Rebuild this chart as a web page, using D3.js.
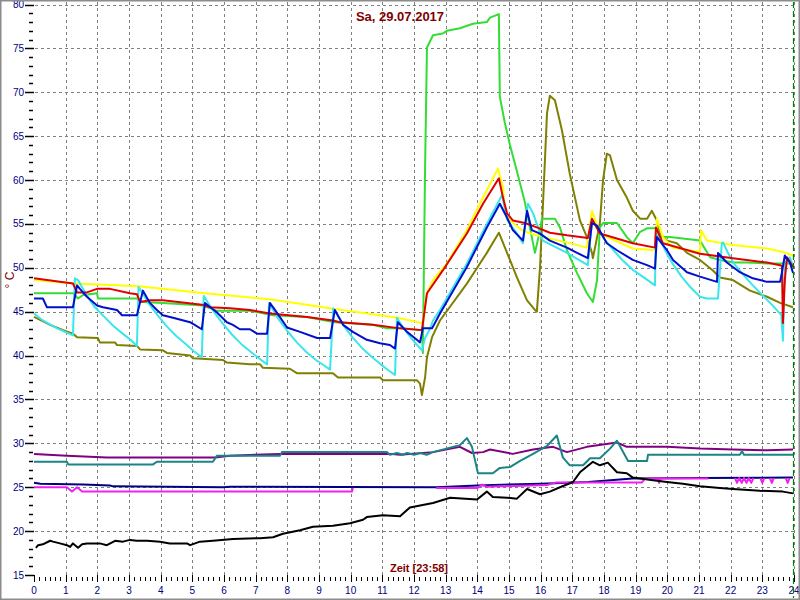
<!DOCTYPE html>
<html><head><meta charset="utf-8">
<script src="https://cdn.jsdelivr.net/npm/d3@7"></script>
<style>
html,body{margin:0;padding:0;background:#fff;}
svg{display:block;}
text{font-family:"Liberation Sans",Arial,sans-serif;}
</style></head>
<body>
<svg id="chart" width="800" height="600"></svg>
<script>
// ---- Data (hour of day, °C) ----
const title = "Sa, 29.07.2017";
const xTitle = "Zeit [23:58]";
const yTitle = "° C";
const xTicks = d3.range(0, 25);
const yTicks = d3.range(15, 81, 5);
const nowHour = 23.967;

const yellow = [[0,48.6],[1.3,48.2],[3.3,47.9],[5.4,47.1],[7.5,46.4],[9.5,45.3],[11.5,44.3],[12.25,43.7],[12.28,43.9],[12.41,47.1],[12.6,48.6],[13.04,50.5],[13.67,54.3],[14.08,57.3],[14.65,61.3],[14.81,59.2],[14.87,56.2],[15.03,55.4],[15.4,54.3],[15.7,53.9],[16.3,53.3],[16.83,52.9],[17.46,52.3],[17.62,56.5],[17.87,53.9],[18.91,52.2],[19.61,52.0],[19.67,55.6],[19.86,53.5],[20.18,52.3],[21.03,51.8],[21.06,54.3],[21.25,53.1],[22.07,52.6],[23.15,52.2],[23.65,51.8],[23.97,51.4]];

const red = [[0,48.8],[1.23,48.2],[1.36,47.2],[1.67,47.2],[1.99,47.6],[2.4,47.6],[3.03,47.1],[3.25,47.0],[3.35,46.1],[3.66,46.3],[4.07,46.3],[4.83,46.0],[5.3,45.8],[5.56,45.5],[6.19,45.4],[6.82,45.2],[7.45,44.8],[8.62,44.4],[9.44,44.0],[9.66,43.8],[10.7,43.5],[11.56,43.1],[12.25,42.9],[12.41,47.1],[12.91,49.7],[13.67,53.9],[14.18,57.3],[14.68,60.2],[14.81,58.0],[14.94,56.2],[15.12,55.4],[15.5,55.1],[15.88,54.6],[16.29,54.0],[16.83,53.7],[17.49,53.4],[17.62,55.6],[17.87,53.9],[18.91,52.8],[19.61,52.3],[19.64,54.6],[19.86,52.8],[21.03,51.6],[22.07,51.1],[23.15,50.6],[23.56,50.3],[23.62,50.2],[23.65,43.7],[23.71,48.6],[23.78,51.2],[23.97,50.1]];

const green = [[0,47.1],[1.23,47.1],[1.39,46.5],[1.55,46.9],[1.99,47.1],[2.02,46.5],[3.25,46.5],[3.44,46.1],[4.07,46.0],[5.34,45.7],[5.78,45.1],[6.82,45.1],[7.55,44.6],[8.62,44.4],[9.5,43.8],[10.7,43.5],[11.15,43.1],[11.56,43.1],[12.25,42.9],[12.28,40.3],[12.35,61.4],[12.41,75.1],[12.6,76.5],[12.91,76.7],[13.04,77.0],[13.45,77.3],[13.86,77.8],[14.3,78.0],[14.4,78.5],[14.68,78.9],[14.71,69.5],[14.87,66.5],[15.03,64.0],[15.25,61.0],[15.5,57.5],[15.72,53.5],[15.82,51.7],[15.98,54.3],[16.04,55.6],[16.45,55.6],[16.61,54.6],[16.83,52.0],[17.15,49.4],[17.46,47.1],[17.65,46.1],[17.78,48.6],[17.87,54.6],[17.97,55.1],[18.41,55.1],[18.72,53.5],[18.91,52.8],[19.14,54.1],[19.36,54.5],[19.67,54.5],[19.77,53.5],[20.08,53.5],[21.03,53.1],[21.35,51.2],[21.66,50.9],[22.07,50.6],[22.51,50.6],[23.15,50.5],[23.97,50.5]];

const cyan = [[0,44.8],[0.28,44.0],[0.73,43.1],[1.23,42.3],[1.29,48.8],[1.39,48.6],[1.5,47.9],[1.7,46.7],[1.9,45.6],[2.2,44.5],[2.5,43.4],[2.8,42.5],[3.05,41.8],[3.25,41.1],
  [3.3,47.8],[3.45,47.0],[3.65,45.8],[3.9,44.6],[4.2,43.3],[4.5,42.2],[4.8,41.3],[5.05,40.5],[5.3,39.8],
  [5.36,46.8],[5.5,46.0],[5.7,44.9],[5.95,43.7],[6.25,42.4],[6.55,41.3],[6.85,40.4],[7.1,39.7],[7.36,39.0],
  [7.42,46.0],[7.55,45.2],[7.75,44.0],[8.0,42.8],[8.3,41.5],[8.6,40.4],[8.9,39.5],[9.15,38.9],[9.35,38.4],
  [9.45,45.4],[9.6,44.5],[9.8,43.3],[10.05,42.1],[10.35,40.9],[10.65,39.9],[10.95,39.0],[11.2,38.3],[11.4,37.8],
  [11.46,44.3],[11.6,43.5],[11.8,42.5],[12.0,41.6],[12.25,40.6],
  [12.35,42.0],[12.5,43.0],[12.6,44.0],[12.82,45.2],[13.67,50.5],[14.3,55.0],[14.78,58.3],[14.94,55.5],[15.25,53.9],[15.44,52.8],[15.6,57.3],[15.76,56.2],[16.07,53.1],[16.83,51.7],[17.49,50.3],
  [17.62,55.4],[17.8,54.5],[18.0,53.3],[18.3,52.0],[18.6,50.8],[18.9,49.8],[19.3,48.8],[19.61,48.0],
  [19.64,53.9],[19.8,53.0],[20.0,51.5],[20.2,50.3],[20.45,49.0],[20.7,47.9],[21.03,46.7],[21.25,46.5],[21.6,46.5],
  [21.72,52.8],[21.76,52.9],[21.9,51.8],[22.1,50.5],[22.4,49.2],[22.7,48.0],[23.0,46.9],[23.3,45.8],[23.6,44.6],
  [23.65,41.7],[23.71,50.5],[23.87,51.2],[23.97,50.1]];

const blue = [[0,46.5],[0.28,46.5],[0.41,45.5],[1.23,45.5],[1.36,48.0],[1.45,47.6],[1.67,46.7],[1.99,45.7],[2.18,45.5],[2.62,45.2],[2.78,44.6],[3.25,44.6],[3.44,47.4],[3.66,46.0],[3.88,45.2],[4.07,44.6],[4.39,44.3],[4.93,43.8],[5.3,43.0],[5.4,46.0],[5.78,44.9],[6.09,43.8],[6.28,43.5],[6.5,43.0],[6.82,43.0],[7.04,42.5],[7.36,42.5],[7.45,46.0],[7.67,44.9],[7.99,43.2],[8.4,42.7],[8.94,42.0],[9.35,42.0],[9.5,45.2],[9.76,43.5],[10.07,42.7],[10.51,41.8],[10.93,41.4],[11.24,41.2],[11.4,40.8],[11.49,43.8],[11.78,42.7],[12.09,41.8],[12.19,41.5],[12.28,43.1],[12.57,43.1],[12.82,44.8],[13.67,50.1],[14.3,54.6],[14.71,57.3],[14.94,55.7],[15.12,54.3],[15.44,53.1],[15.57,56.5],[15.72,54.3],[15.98,53.9],[16.29,53.1],[16.83,52.3],[17.15,51.7],[17.49,51.1],[17.62,55.1],[17.78,54.8],[18.09,52.8],[18.41,52.0],[18.91,50.9],[19.36,50.3],[19.61,49.9],[19.67,53.5],[19.99,52.0],[20.18,50.9],[20.62,49.5],[21.03,49.0],[21.57,48.4],[21.6,51.7],[21.88,50.6],[22.29,49.5],[22.7,48.8],[23.15,48.4],[23.56,48.4],[23.62,49.5],[23.71,51.4],[23.87,50.6],[23.97,49.4]];

const olive = [[0,44.4],[0.51,43.5],[0.92,42.9],[1.23,42.5],[1.36,42.1],[2.02,42.0],[2.08,41.5],[2.56,41.5],[2.62,41.2],[3.25,41.1],[3.35,40.7],[4.07,40.6],[4.2,40.3],[4.93,40.0],[5.02,39.7],[5.97,39.5],[6.09,39.2],[6.82,39.0],[7.14,39.0],[7.23,38.6],[8.08,38.5],[8.3,38.0],[9.44,38.0],[9.6,37.5],[10.93,37.5],[11.02,37.2],[12.09,37.2],[12.19,36.8],[12.25,35.5],[12.35,37.5],[12.41,39.8],[12.57,42.1],[12.82,44.0],[13.67,48.2],[14.3,51.7],[14.68,54.0],[15.03,50.9],[15.25,48.9],[15.57,46.3],[15.82,45.2],[15.88,45.0],[15.98,50.1],[16.07,57.0],[16.2,67.6],[16.29,69.6],[16.45,69.1],[16.67,65.7],[16.92,60.7],[17.24,55.4],[17.46,53.5],[17.62,51.7],[17.65,51.1],[17.87,55.1],[17.97,60.0],[18.09,63.0],[18.19,62.8],[18.41,60.0],[18.72,58.0],[18.91,56.5],[19.14,55.6],[19.36,55.6],[19.51,56.5],[19.67,55.4],[19.77,53.9],[19.99,53.1],[20.3,52.8],[20.62,51.7],[21.03,50.9],[21.44,49.7],[21.66,48.9],[22.07,48.6],[22.61,47.4],[23.15,46.7],[23.56,46.0],[23.97,45.5]];

const purple = [[0,28.8],[1.04,28.6],[2.3,28.4],[4.07,28.4],[5.72,28.4],[6.19,28.6],[7.77,28.8],[9.98,28.8],[11.24,28.8],[11.56,28.7],[12.6,29.0],[13.45,29.6],[13.83,28.9],[14.18,29.0],[14.4,29.3],[15.12,28.8],[15.76,29.3],[16.39,29.6],[16.83,29.0],[17.46,29.6],[18.41,30.1],[18.72,29.6],[19.99,29.6],[21.03,29.4],[22.07,29.3],[23.15,29.2],[23.97,29.3]];

const teal = [[0,27.9],[1.04,27.9],[1.08,27.6],[3.76,27.6],[3.88,27.9],[5.65,27.9],[5.78,28.6],[7.77,28.6],[7.83,29.0],[11.15,29.0],[11.24,28.7],[11.46,28.9],[11.65,28.7],[11.78,28.9],[12.0,28.7],[12.2,28.9],[12.4,28.7],[12.6,29.0],[13.23,29.6],[13.45,29.8],[13.67,30.6],[13.83,29.6],[14.02,26.6],[14.49,26.6],[14.71,27.2],[15.03,27.3],[15.35,28.0],[15.76,28.8],[16.2,29.7],[16.51,30.9],[16.7,28.4],[16.92,27.5],[17.34,27.5],[17.56,28.3],[17.87,28.3],[18.19,29.4],[18.41,30.3],[18.76,28.0],[19.36,28.0],[19.39,28.7],[22.29,28.7],[22.36,29.1],[22.42,28.7],[23.97,28.7]];

const navy = [[0,25.5],[0.2,25.4],[1.55,25.3],[2.4,25.2],[2.5,25.1],[5.97,25.0],[6.2,25.05],[12.7,25.0],[14.0,25.2],[16.0,25.4],[17.5,25.6],[18.9,26.0],[21.0,26.05],[23.97,26.1]];

const magenta = [[0,25.0],[1.04,25.0],[1.2,24.5],[1.36,25.0],[1.52,24.5],[10.04,24.5],[10.07,24.9],null,
  [12.7,24.9],[14.0,24.9],[14.15,25.3],[14.3,25.05],[16.2,25.25],[16.5,25.55],[19.2,25.55],[19.3,26.0],[21.3,26.0],null,
  [19.68,26.05],[19.74,25.5],[19.8,26.05],null,
  [22.14,26.05],[22.2,25.5],[22.27,26.05],[22.35,25.5],[22.42,26.05],[22.5,25.5],[22.57,26.05],[22.65,25.5],[22.72,26.05],null,
  [22.94,26.05],[23.0,25.5],[23.06,26.05],null,
  [23.24,26.05],[23.3,25.5],[23.36,26.05],null,
  [23.74,26.05],[23.8,25.5],[23.86,26.05]];

const black = [[0.06,18.1],[0.13,18.4],[0.28,18.5],[0.51,18.9],[0.6,18.8],[0.82,18.6],[1.04,18.4],[1.14,18.2],[1.23,18.6],[1.39,18.1],[1.52,18.5],[1.67,18.6],[2.08,18.6],[2.3,18.4],[2.56,18.9],[2.81,18.8],[3.03,19.0],[3.25,18.9],[3.57,18.9],[3.98,18.8],[4.29,18.6],[4.83,18.6],[4.93,18.4],[5.24,18.8],[5.65,18.9],[6.28,19.1],[7.14,19.2],[7.55,19.3],[7.86,19.7],[8.4,20.1],[8.81,20.5],[9.44,20.6],[9.98,20.9],[10.39,21.3],[10.51,21.6],[11.02,21.8],[11.56,21.7],[11.87,22.7],[12.6,23.2],[13.14,23.8],[13.99,23.6],[14.3,24.5],[14.49,23.9],[14.94,23.8],[15.25,23.7],[15.57,24.8],[15.98,24.2],[16.29,24.5],[16.61,25.0],[17.02,25.6],[17.24,26.7],[17.65,27.9],[17.87,27.5],[18.12,27.8],[18.41,26.7],[18.72,26.6],[18.91,26.1],[19.55,25.8],[19.99,25.6],[20.49,25.4],[21.03,25.1],[21.66,24.9],[22.07,24.8],[22.92,24.6],[23.65,24.5],[23.97,24.3]];

const seriesList = [
  {data: purple,  color: "#800080"},
  {data: teal,    color: "#1a8585"},
  {data: navy,    color: "#000080"},
  {data: magenta, color: "#ee22ee"},
  {data: black,   color: "#000000"},
  {data: olive,   color: "#808000"},
  {data: green,   color: "#33dd33"},
  {data: yellow,  color: "#ffff00"},
  {data: cyan,    color: "#3ae6ec"},
  {data: red,     color: "#e00000"},
  {data: blue,    color: "#0010cc"}
];

// ---- Drawing ----
const svg = d3.select("#chart");
const x = d3.scaleLinear().domain([0, 24]).range([34, 794]);
const y = d3.scaleLinear().domain([15, 80]).range([575, 4.5]);

// grid
const grid = svg.append("g").attr("stroke", "#808080").attr("stroke-width", 1).attr("stroke-dasharray", "3,3");
grid.selectAll("line.h").data(yTicks.filter(v => v > 15)).join("line")
  .attr("x1", 35).attr("x2", 797)
  .attr("y1", d => Math.round(y(d)) + 0.5).attr("y2", d => Math.round(y(d)) + 0.5);
grid.selectAll("line.v").data(xTicks.filter(v => v > 0)).join("line")
  .attr("y1", 2).attr("y2", 575)
  .attr("x1", d => Math.round(x(d)) + 0.5).attr("x2", d => Math.round(x(d)) + 0.5);

// y axis ticks
const yAx = svg.append("g");
yAx.selectAll("line.minor").data(d3.range(15, 81, 1).filter(v => v % 5 !== 0)).join("line")
  .attr("x1", 29).attr("x2", 33).attr("y1", d => Math.round(y(d)) + 0.5).attr("y2", d => Math.round(y(d)) + 0.5)
  .attr("stroke", "#000").attr("stroke-width", 1.5);
yAx.selectAll("line.major").data(yTicks).join("line")
  .attr("x1", 25).attr("x2", 34).attr("y1", d => Math.round(y(d)) + 0.5).attr("y2", d => Math.round(y(d)) + 0.5)
  .attr("stroke", "#000").attr("stroke-width", 1.5);
yAx.selectAll("text").data(yTicks).join("text")
  .attr("x", 24).attr("y", d => y(d) + 3.5).attr("text-anchor", "end")
  .attr("font-size", 10).attr("fill", "#000080").text(d => d);

// x axis ticks
const xAx = svg.append("g").attr("stroke", "#000").attr("stroke-width", 1);
xAx.selectAll("line.minor").data(d3.range(0, 24 * 6 + 1).filter(i => i % 6 !== 0).map(i => i / 6)).join("line")
  .attr("x1", d => Math.round(x(d)) + 0.5).attr("x2", d => Math.round(x(d)) + 0.5)
  .attr("y1", 577).attr("y2", 581);
xAx.selectAll("line.major").data(xTicks).join("line")
  .attr("x1", d => Math.round(x(d)) + 0.5).attr("x2", d => Math.round(x(d)) + 0.5)
  .attr("y1", 575).attr("y2", 582);
svg.append("g").selectAll("text").data(xTicks).join("text")
  .attr("x", d => x(d)).attr("y", 594).attr("text-anchor", "middle")
  .attr("font-size", 10).attr("fill", "#000080").text(d => d);

// series
const line = d3.line().defined(d => d !== null).x(d => x(d[0])).y(d => y(d[1]));
svg.append("g").selectAll("path").data(seriesList).join("path")
  .attr("d", s => line(s.data))
  .attr("fill", "none").attr("stroke", s => s.color)
  .attr("stroke-width", 2).attr("stroke-linejoin", "round");

// current-time marker
svg.append("line")
  .attr("x1", Math.round(x(nowHour)) + 0.5).attr("x2", Math.round(x(nowHour)) + 0.5)
  .attr("y1", 2).attr("y2", 598)
  .attr("stroke", "#008000").attr("stroke-width", 1.2).attr("stroke-dasharray", "6,3");

// titles
svg.append("text").attr("x", 400).attr("y", 21).attr("text-anchor", "middle")
  .attr("font-size", 13).attr("font-weight", "bold").attr("fill", "#800000").text(title);
svg.append("text").attr("x", 419).attr("y", 572).attr("text-anchor", "middle")
  .attr("font-size", 11).attr("font-weight", "bold").attr("fill", "#800000").text(xTitle);
svg.append("text").attr("transform", "translate(14,280) rotate(-90)").attr("text-anchor", "middle")
  .attr("font-size", 12).attr("fill", "#800000").text(yTitle);

// frame
svg.append("rect").attr("x", 0.75).attr("y", 0.75).attr("width", 798.5).attr("height", 598.5)
  .attr("fill", "none").attr("stroke", "#8c8c8c").attr("stroke-width", 1.5);
</script>
</body></html>
